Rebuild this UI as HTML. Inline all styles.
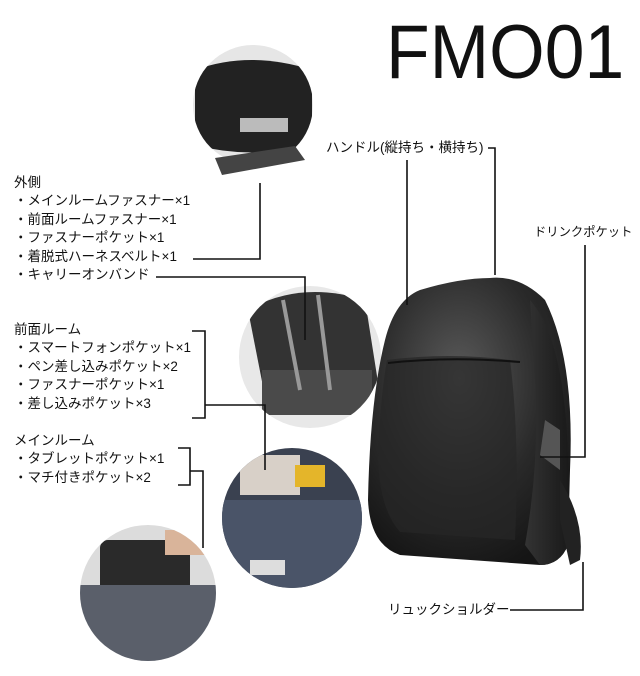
<!DOCTYPE html>
<html><head><meta charset="utf-8"><style>
html,body{margin:0;padding:0;background:#fff;}
body{width:640px;height:676px;position:relative;overflow:hidden;font-family:"Liberation Sans","Noto Sans CJK JP",sans-serif;color:#111;}
.t{position:absolute;font-size:13.5px;line-height:18.4px;white-space:nowrap;}
.title{position:absolute;left:386px;top:15px;font-size:76px;line-height:76px;font-weight:400;transform:scaleX(0.94);transform-origin:left top;}
svg{position:absolute;left:0;top:0;}
</style></head><body>
<svg width="640" height="676">
<defs>
<radialGradient id="bg" cx="0.45" cy="0.35" r="0.7"><stop offset="0" stop-color="#5a5a5a"/><stop offset="0.6" stop-color="#2a2a2a"/><stop offset="1" stop-color="#151515"/></radialGradient>
<linearGradient id="side" x1="0" x2="1"><stop offset="0" stop-color="#333"/><stop offset="1" stop-color="#1a1a1a"/></linearGradient>
<clipPath id="c1"><circle cx="253" cy="105" r="60"/></clipPath>
<clipPath id="c2"><circle cx="310" cy="357" r="71"/></clipPath>
<clipPath id="c3"><circle cx="292" cy="518" r="70"/></clipPath>
<clipPath id="c4"><circle cx="148" cy="593" r="68"/></clipPath>
</defs>
<circle cx="253" cy="105" r="60" fill="#e6e6e6"/>
<g clip-path="url(#c1)">
<path d="M195 70 Q250 50 312 70 L312 145 Q250 160 195 145Z" fill="#222"/>
<rect x="240" y="118" width="48" height="14" fill="#bbb"/>
</g>
<path d="M215 158 L295 146 L305 160 L222 175Z" fill="#444"/>
<circle cx="310" cy="357" r="71" fill="#e8e8e8"/>
<g clip-path="url(#c2)">
<path d="M248 310 Q300 280 365 300 L380 395 Q330 420 268 412 Z" fill="#333"/>
<rect x="262" y="370" width="110" height="45" fill="#4a4a4a"/>
<line x1="283" y1="300" x2="300" y2="390" stroke="#999" stroke-width="4"/>
<line x1="318" y1="295" x2="330" y2="390" stroke="#999" stroke-width="4"/>
</g>
<circle cx="292" cy="518" r="70" fill="#3a4150"/>
<g clip-path="url(#c3)">
<rect x="222" y="500" width="140" height="90" fill="#4a5468"/>
<rect x="240" y="455" width="60" height="40" fill="#d8d0c8"/>
<rect x="295" y="465" width="30" height="22" fill="#e4b52a"/>
<rect x="250" y="560" width="35" height="15" fill="#ddd"/>
</g>
<circle cx="148" cy="593" r="68" fill="#dcdcdc"/>
<g clip-path="url(#c4)">
<rect x="100" y="540" width="90" height="100" rx="8" fill="#2a2a2a"/>
<rect x="80" y="585" width="140" height="80" fill="#5a5f6a"/>
<rect x="165" y="530" width="40" height="25" fill="#d9b49a"/>
</g>
<path d="M490 278 Q520 275 545 300 Q575 360 570 470 L568 545 Q560 565 540 565 L400 555 Q370 545 368 500 Q370 400 385 340 Q395 300 420 290 Q460 278 490 278Z" fill="url(#bg)"/>
<path d="M530 300 Q565 340 568 460 L568 545 Q560 565 540 565 L525 545 Q540 460 535 380 Z" fill="url(#side)"/>
<path d="M387 360 Q450 352 510 360 Q520 440 515 540 L400 532 Q380 510 378 460 Q380 400 387 360Z" fill="#262626" opacity="0.7"/>
<path d="M388 363 Q450 356 520 362" stroke="#111" stroke-width="2" fill="none"/>
<path d="M545 420 L560 430 L560 470 L540 455Z" fill="#555"/>
<path d="M560 480 Q585 520 580 560 L570 565 L560 520Z" fill="#222"/>
<g stroke="#111" stroke-width="1.6" fill="none">
<polyline points="193,259 260,259 260,183"/>
<polyline points="156,277 305,277 305,340"/>
<polyline points="192,331 205,331 205,418 192,418"/>
<polyline points="205,405 265,405 265,470"/>
<polyline points="178,448 190,448 190,485 178,485"/>
<polyline points="190,471 203,471 203,548"/>
<polyline points="407,160 407,305"/>
<polyline points="488,148 495,148 495,275"/>
<polyline points="585,245 585,457 540,457"/>
<polyline points="510,610 583,610 583,562"/>
</g>
</svg>
<div class="title">FMO01</div>
<div class="t" style="left:14px;top:174px">外側<br>・メインルームファスナー×1<br>・前面ルームファスナー×1<br>・ファスナーポケット×1<br>・着脱式ハーネスベルト×1<br>・キャリーオンバンド</div>
<div class="t" style="left:14px;top:321px">前面ルーム<br>・スマートフォンポケット×1<br>・ペン差し込みポケット×2<br>・ファスナーポケット×1<br>・差し込みポケット×3</div>
<div class="t" style="left:14px;top:432px">メインルーム<br>・タブレットポケット×1<br>・マチ付きポケット×2</div>
<div class="t" style="left:326px;top:139px">ハンドル(縦持ち・横持ち)</div>
<div class="t" style="left:534px;top:223px;font-size:12.3px">ドリンクポケット</div>
<div class="t" style="left:388px;top:601px">リュックショルダー</div>
</body></html>
